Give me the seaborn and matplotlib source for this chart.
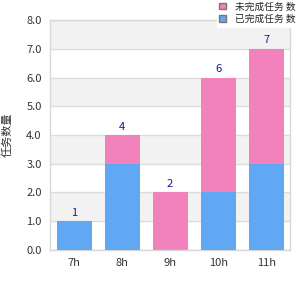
import matplotlib
matplotlib.use("Agg")
import matplotlib.pyplot as plt
from matplotlib.patches import Patch
import seaborn as sns
import pandas as pd

hours = ["7h", "8h", "9h", "10h", "11h"]
blue_vals = [1, 3, 0, 2, 3]
pink_vals = [0, 1, 2, 4, 4]
totals = [b + p for b, p in zip(blue_vals, pink_vals)]
y_ticks = [0, 1, 2, 3, 4, 5, 6, 7, 8]

legend_pink = "未完成任务 数"
legend_blue = "已完成任务 数"
y_title = "任务数量"

BLUE = "#60a8f4"
PINK = "#f282bb"

sns.set_style("white")
plt.rcParams["font.family"] = ["Noto Sans CJK SC", "DejaVu Sans"]

df = pd.DataFrame({"hour": hours, "blue": blue_vals, "total": totals})

fig = plt.figure(figsize=(3, 3), dpi=100)
ax = fig.add_axes([0.167, 0.167, 0.8, 0.766])

# alternating grey bands
for lo in [1, 3, 5, 7]:
    ax.axhspan(lo, lo + 1, color="#f2f2f2", zorder=0, lw=0)

sns.barplot(data=df, x="hour", y="total", color=PINK, width=0.73,
            saturation=1, linewidth=0, edgecolor="none", ax=ax, zorder=2)
sns.barplot(data=df, x="hour", y="blue", color=BLUE, width=0.73,
            saturation=1, linewidth=0, edgecolor="none", ax=ax, zorder=3)

for i, t in enumerate(totals):
    ax.text(i, t + 0.12, str(t), ha="center", va="bottom",
            fontsize=8, color="#1a1a8c", zorder=4)

ax.set_ylim(0, 8)
ax.set_xlim(-0.5, 4.5)
ax.set_yticks(y_ticks)
ax.set_yticklabels([f"{v:.1f}" for v in y_ticks])
ax.yaxis.grid(True, color="#dddddd", lw=1, zorder=1)
ax.set_axisbelow(True)
ax.tick_params(axis="both", labelsize=8, colors="#333333", length=0, pad=6)
ax.set_xlabel("")
ax.set_ylabel(y_title, fontsize=8, color="#333333", labelpad=10)
for s in ax.spines.values():
    s.set_color("#d8d8d8")
    s.set_linewidth(1)

handles = [Patch(facecolor=PINK, edgecolor="#777777", label=legend_pink),
           Patch(facecolor=BLUE, edgecolor="#777777", label=legend_blue)]
leg = fig.legend(handles=handles, loc="upper right", bbox_to_anchor=(1.0, 1.01),
                 fontsize=7, frameon=True, fancybox=False, handlelength=0.7,
                 handleheight=0.7, borderpad=0.25, labelspacing=0.3,
                 handletextpad=0.9, borderaxespad=0.2)
leg.get_frame().set_facecolor("white")
leg.get_frame().set_edgecolor("white")
leg.get_frame().set_alpha(1)
leg.set_zorder(10)

fig.savefig("out.png", dpi=100)
